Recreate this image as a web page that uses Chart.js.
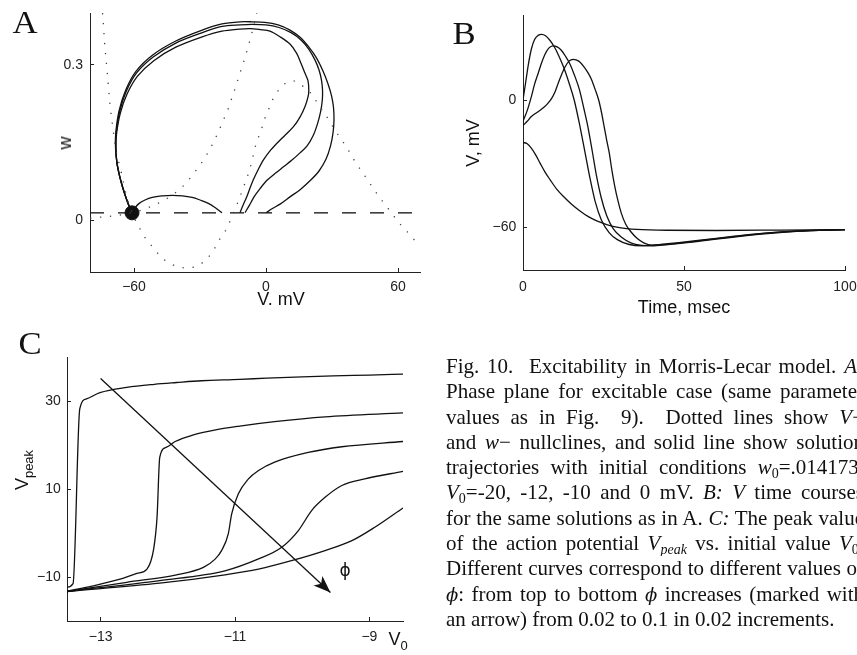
<!DOCTYPE html>
<html><head><meta charset="utf-8">
<script src="https://cdn.jsdelivr.net/npm/chart.js@4.4.0/dist/chart.umd.min.js"></script>
<style>
html,body{margin:0;padding:0;background:#fff;}
body{width:857px;height:655px;overflow:hidden;position:relative;}
.box{position:absolute;}
.lbl{position:absolute;font-family:"Liberation Sans",Arial,sans-serif;color:#111;white-space:nowrap;line-height:1;transform:translate(-50%,-50%);}
.rot{transform:translate(-50%,-50%) rotate(-90deg);}
.pl{position:absolute;font-family:"Liberation Serif","Times New Roman",serif;font-size:31px;line-height:1;color:#111;transform:translate(-50%,-50%) scaleX(1.12);}
#cap{position:absolute;left:446px;top:353.6px;font-family:"Liberation Serif","Times New Roman",serif;font-size:21px;line-height:25.3px;color:#111;will-change:transform;}
#cap div{width:418px;height:25.3px;text-align:justify;text-align-last:justify;overflow:hidden;}
#cap div.last{text-align-last:left;}
#cap sub{font-size:14px;line-height:0;vertical-align:-4px;color:#111;}
.ph{font-family:"DejaVu Serif","Liberation Serif",serif;font-style:italic;font-size:18px;}
</style></head><body>
<div class="box" style="left:0;top:0;width:430px;height:320px"><canvas id="cA"></canvas></div>
<div class="box" style="left:430px;top:0;width:427px;height:320px"><canvas id="cB"></canvas></div>
<div class="box" style="left:0;top:330px;width:430px;height:325px"><canvas id="cC"></canvas></div>

<div class="pl" style="left:24.5px;top:22px">A</div>
<div class="pl" style="left:464px;top:32.5px">B</div>
<div class="pl" style="left:30px;top:343px">C</div>

<div class="lbl" style="left:281px;top:299px;font-size:18px">V. mV</div>
<div class="lbl rot" style="left:65px;top:143px;font-size:18px">w</div>
<div class="lbl" style="left:684px;top:307px;font-size:18px">Time, msec</div>
<div class="lbl rot" style="left:473px;top:143px;font-size:18px">V, mV</div>
<div class="lbl rot" style="left:22px;top:470px;font-size:18px">V<span style="font-size:13px;position:relative;top:5px">peak</span></div>
<div class="lbl" style="left:398px;top:639px;font-size:18px">V<span style="font-size:13px;position:relative;top:5px">0</span></div>
<div class="lbl" style="left:345px;top:570px;font-size:17px;font-family:'DejaVu Sans',sans-serif">ϕ</div>

<div id="cap">
<div>Fig. 10. &nbsp;Excitability in Morris-Lecar model. <i>A:</i></div>
<div>Phase plane for excitable case (same parameter</div>
<div>values as in Fig. &nbsp;9). &nbsp;Dotted lines show <i>V</i>&#8722;</div>
<div>and <i>w</i>&#8722; nullclines, and solid line show solution</div>
<div>trajectories with initial conditions <i>w</i><sub>0</sub>=.014173,</div>
<div><i>V</i><sub>0</sub>=-20, -12, -10 and 0 mV. <i>B:</i> <i>V</i> time courses</div>
<div>for the same solutions as in A. <i>C:</i> The peak value</div>
<div>of the action potential <i>V</i><sub><i>peak</i></sub> vs. initial value <i>V</i><sub>0</sub>.</div>
<div>Different curves correspond to different values of</div>
<div><span class="ph">ϕ</span>: from top to bottom <span class="ph">ϕ</span> increases (marked with</div>
<div class="last">an arrow) from 0.02 to 0.1 in 0.02 increments.</div>
</div>

<script>
// ---------- Panel A: phase plane (V in mV, w) ----------
const aTicksX = [-60, 0, 60];
const aTickLabelsX = ['\u221260', '0', '60'];
const aTicksY = [0, 0.3];
const aTickLabelsY = ['0', '0.3'];
const aW0 = 0.014173;
const aRest = [-60.9, 0.0142];
const aNullV = [[-74.3,0.40],[-73.9,0.378],[-73.3,0.338],[-72.4,0.297],[-71.6,0.256],[-70.7,0.215],[-69.5,0.175],[-68.2,0.135],[-66,0.096],[-64.4,0.065],[-62.6,0.035],[-60.8,0.015],[-59,-0.003],[-56.7,-0.021],[-54.3,-0.038],[-51,-0.054],[-48,-0.07],[-44.2,-0.082],[-39.7,-0.09],[-35.2,-0.092],[-30.6,-0.087],[-25.3,-0.067],[-20.8,-0.035],[-17.8,-0.016],[-16,0.002],[-14,0.022],[-12.1,0.042],[-10.3,0.063],[-8.4,0.085],[-6.5,0.112],[-5,0.14],[-3.6,0.158],[-1.9,0.178],[-0.5,0.197],[1.4,0.216],[3.3,0.235],[5.9,0.252],[9,0.265],[11.5,0.269],[13.9,0.267],[17.6,0.256],[21,0.242],[23.7,0.224],[26.4,0.208],[29,0.19],[31.5,0.173],[34.2,0.156],[36.8,0.14],[39.2,0.122],[41.9,0.104],[44.7,0.087],[47.4,0.07],[50.1,0.053],[52.9,0.037],[55.8,0.021],[58.8,0.004],[61.9,-0.012],[65.2,-0.027],[68.2,-0.042],[70,-0.05]];
const aNullW = [[-80,0.004],[-75,0.006],[-70,0.008],[-65,0.011],[-60.5,0.015],[-55.5,0.021],[-51,0.029],[-46.5,0.038],[-42.5,0.049],[-38.9,0.061],[-35.9,0.074],[-32.9,0.09],[-29.9,0.107],[-27.3,0.124],[-24.9,0.142],[-22.8,0.16],[-20.8,0.179],[-18.9,0.198],[-17,0.217],[-15.5,0.236],[-14,0.255],[-12.5,0.275],[-11,0.295],[-9.5,0.314],[-8.2,0.334],[-6.8,0.355],[-5.6,0.375],[-4.5,0.394],[-4.2,0.40]];
const aTraj0 = [[0.2,0.0147],[2.7,0.022],[6.4,0.031],[10.9,0.045],[15.5,0.059],[20,0.076],[24.1,0.095],[27.3,0.118],[29.3,0.143],[30.45,0.168],[30.9,0.193],[30.7,0.217],[29.8,0.24],[28.2,0.263],[25.9,0.288],[23,0.313],[19.5,0.334],[15.5,0.353],[10.9,0.367],[5.5,0.377],[-0.5,0.382],[-6.4,0.383],[-11.8,0.383],[-20,0.379],[-29,0.367],[-41,0.346],[-51.5,0.319],[-59.2,0.287],[-63.8,0.251],[-66.8,0.211],[-68.3,0.168],[-68.4,0.14],[-67.8,0.112],[-66.7,0.088],[-65.2,0.064],[-63.6,0.043],[-62.2,0.027],[-60.9,0.0142]];
const aTraj10 = [[-9.55,0.0147],[-7.5,0.029],[-5.45,0.045],[-2.7,0.061],[0.45,0.077],[4.1,0.09],[7.95,0.103],[11.8,0.116],[15.45,0.13],[18.6,0.143],[21.4,0.163],[23.4,0.186],[24.8,0.209],[25.6,0.232],[25.7,0.251],[25.2,0.271],[24.1,0.29],[22.3,0.309],[19.5,0.33],[15.9,0.348],[11.4,0.362],[5.9,0.372],[0,0.377],[-6.4,0.378],[-11.8,0.377],[-20,0.374],[-29,0.362],[-41,0.342],[-51.3,0.315],[-58.9,0.284],[-63.5,0.249],[-66.5,0.21],[-68.1,0.168],[-68.3,0.14],[-67.8,0.112],[-66.7,0.088],[-65.2,0.064],[-63.6,0.043],[-62.2,0.027],[-60.9,0.0142]];
const aTraj12 = [[-11.8,0.0147],[-10.45,0.029],[-8.77,0.045],[-7.27,0.062],[-5.77,0.078],[-3.64,0.097],[-1.23,0.116],[1.82,0.134],[4.86,0.148],[8.64,0.164],[12.4,0.18],[15.45,0.199],[17.7,0.219],[19.1,0.238],[19.45,0.251],[19.1,0.269],[17.7,0.284],[15.9,0.303],[13.95,0.322],[10.9,0.34],[6.4,0.354],[1.8,0.365],[-2.7,0.368],[-7.3,0.37],[-12,0.369],[-20,0.365],[-29,0.354],[-41,0.334],[-51,0.308],[-58.4,0.278],[-63.1,0.244],[-66.2,0.207],[-67.9,0.168],[-68.2,0.14],[-67.8,0.112],[-66.7,0.088],[-65.2,0.064],[-63.6,0.043],[-62.2,0.027],[-60.9,0.0142]];
const aTraj20 = [[-20,0.0142],[-23,0.024],[-26,0.032],[-30,0.039],[-33.6,0.044],[-38,0.047],[-42.7,0.048],[-47,0.047],[-51.7,0.044],[-55,0.039],[-57.8,0.032],[-59.5,0.024],[-60.6,0.0155]];

// ---------- Panel B: V time courses (t in msec, V in mV) ----------
const bTicksX = [0, 50, 100];
const bTickLabelsX = ['0', '50', '100'];
const bTicksY = [-60, 0];
const bTickLabelsY = ['\u221260', '0'];
const bV0_0 = [[0,0],[0.8,8],[1.7,17],[2.6,24],[3.6,28.5],[4.7,30.4],[5.8,30.9],[7,30.2],[8.4,28],[9.8,24.8],[11.2,20.5],[12.6,15.5],[14.3,8],[15.9,0],[17.7,-12.5],[19.3,-25],[20.9,-37.5],[22.4,-47.7],[24.3,-56.3],[26.8,-62.5],[29.3,-65.7],[33,-68],[37,-68.6],[40,-68.4],[45,-67.6],[55,-66],[65,-64.2],[75,-62.6],[85,-61.6],[100,-61]];
const bV0_10 = [[0,-10],[1.3,-5],[2.6,1.6],[3.6,7.5],[4.7,12.5],[5.7,17.2],[6.7,21.1],[8,24.4],[9.3,25.5],[10.6,25],[11.9,23.4],[13.2,20.6],[14.5,17.2],[15.9,12],[17.5,5],[18.9,-4],[20.2,-13],[21.5,-24],[22.8,-35.5],[24.3,-46],[26,-54.5],[28,-60.5],[30.5,-64.5],[33.5,-67.2],[37,-68.4],[40,-68.6],[45,-67.9],[55,-66.2],[65,-64.4],[75,-62.8],[85,-61.7],[100,-61]];
const bV0_12 = [[0,-12],[1.3,-10],[2.6,-7.8],[4.2,-6],[5.7,-4.4],[7.3,-2.3],[8.8,0.5],[10,4],[10.9,7.8],[12,12],[13,15.4],[14.3,18.3],[15.6,19.1],[17.3,18.3],[19,15.5],[20.3,12.5],[21.3,9.5],[22.4,5],[23.5,0],[24.4,-6],[25.2,-12.5],[26,-19],[26.8,-25],[27.6,-33],[28.5,-40.6],[29.5,-47.5],[30.5,-53.1],[31.9,-58.5],[33.5,-62],[35.5,-65.2],[37.5,-67.2],[40,-68.3],[45,-68],[55,-66.4],[65,-64.6],[75,-63],[85,-61.8],[100,-61]];
const bV0_20 = [[0,-20],[1.2,-20.5],[2.4,-22.3],[3.8,-25.5],[5.3,-29.7],[6.8,-33.8],[8.4,-37.5],[10.4,-41.8],[12.5,-45.3],[15,-48.9],[17.7,-52.2],[20.3,-54.9],[22.9,-56.9],[26,-58.6],[29.1,-59.8],[32.2,-60.5],[35.3,-60.9],[45,-61.3],[60,-61.4],[80,-61.2],[100,-61]];

// ---------- Panel C: V_peak vs V0 for phi = 0.02..0.1 ----------
const cTicksX = [-13, -11, -9];
const cTickLabelsX = ['\u221213', '\u221211', '\u22129'];
const cTicksY = [-10, 10, 30];
const cTickLabelsY = ['\u221210', '10', '30'];
const cPhi02 = [[-13.5,-12.3],[-13.41,-11.5],[-13.31,28.2],[-13.21,30.5],[-13.01,31.9],[-12.61,33.1],[-12.2,33.8],[-11.87,34.2],[-11.5,34.6],[-10.93,34.9],[-10.53,35.2],[-10,35.5],[-9.54,35.7],[-9,35.9],[-8.5,36.1]];
const cPhi04 = [[-13.5,-13.2],[-13.11,-12],[-12.71,-10.5],[-12.46,-9.2],[-12.31,-8.2],[-12.21,-3.6],[-12.16,3.6],[-12.12,17.2],[-12.02,19.5],[-11.89,20.8],[-11.62,22.3],[-11.27,23.5],[-10.93,24.3],[-10.41,25.3],[-9.66,26.4],[-8.5,27.3]];
const cPhi06 = [[-13.5,-13.3],[-12.61,-11.2],[-11.87,-9.5],[-11.47,-7.8],[-11.3,-6],[-11.2,-4],[-11.1,-0.2],[-11.05,4.3],[-10.95,8.9],[-10.8,12.3],[-10.65,14.2],[-10.41,16.1],[-9.91,18.3],[-9.41,19.6],[-8.5,20.8]];
const cPhi08 = [[-13.5,-13.3],[-12.12,-10.8],[-11.15,-8.6],[-10.65,-5.9],[-10.31,-3.3],[-10.06,0.5],[-9.86,5.1],[-9.66,8.1],[-9.41,10.8],[-9.07,12.3],[-8.5,14]];
const cPhi10 = [[-13.5,-13.3],[-12.12,-11.4],[-11.15,-9.5],[-10.65,-8.2],[-10.16,-6.3],[-9.66,-4],[-9.26,-1.75],[-8.92,1.3],[-8.5,5.7]];
const cArrow = [[-13,35.1],[-9.58,-13.5]];

// ---------- helpers ----------
Chart.defaults.font.family = '"Liberation Sans", Arial, sans-serif';
Chart.defaults.font.size = 14;
Chart.defaults.color = '#222';
Chart.defaults.animation = false;

const INK = '#111';
function pts(arr){ return arr.map(p => ({x: p[0], y: p[1]})); }
function lineDS(arr, extra){
  return Object.assign({data: pts(arr), showLine: true, borderColor: INK, backgroundColor: INK,
    borderWidth: 1.3, pointRadius: 0, fill: false, tension: 0.3}, extra || {});
}
function axis(min, max, ticks, labels, size, pad, horiz){
  return {
    type: 'linear', min: min, max: max,
    afterBuildTicks: s => { s.ticks = ticks.map(v => ({value: v})); },
    afterFit: s => {
      if (horiz) { s.height = size; s.paddingLeft = 0; s.paddingRight = 0; }
      else { s.width = size; s.paddingTop = 0; s.paddingBottom = 0; }
    },
    ticks: {padding: pad, autoSkip: false, maxRotation: 0, minRotation: 0, color: '#222',
      font: {size: 14}, callback: (v, i) => labels[i]},
    grid: {display: true, drawOnChartArea: false, drawTicks: true, tickLength: -4, color: '#222', lineWidth: 1},
    border: {display: true, color: '#222', width: 1}
  };
}
function baseOpts(pad, sx, sy){
  return {responsive: true, maintainAspectRatio: false, animation: false,
    layout: {padding: pad},
    plugins: {legend: {display: false}, tooltip: {enabled: false}},
    scales: {x: sx, y: sy}};
}

const arrowHead = {
  id: 'arrowHead',
  afterDatasetsDraw(chart){
    chart.data.datasets.forEach((d, i) => {
      if (!d.arrow) return;
      const pts = chart.getDatasetMeta(i).data;
      const p0 = pts[0], p1 = pts[pts.length - 1];
      const a = Math.atan2(p1.y - p0.y, p1.x - p0.x);
      const L = 17, W = 6.5;
      const bx = p1.x - L * Math.cos(a), by = p1.y - L * Math.sin(a);
      const c = chart.ctx;
      c.save();
      c.fillStyle = INK;
      c.beginPath();
      c.moveTo(p1.x, p1.y);
      c.lineTo(bx + W * Math.sin(a), by - W * Math.cos(a));
      c.lineTo(p1.x - 0.75 * L * Math.cos(a), p1.y - 0.75 * L * Math.sin(a));
      c.lineTo(bx - W * Math.sin(a), by + W * Math.cos(a));
      c.closePath();
      c.fill();
      c.restore();
    });
  }
};

// ---------- Panel A chart ----------
const dotted = {borderDash: [1.3, 8.7], borderColor: '#444', borderWidth: 1.3, tension: 0.35};
new Chart(document.getElementById('cA'), {
  type: 'scatter',
  data: {datasets: [
    lineDS(aNullV, dotted),
    lineDS(aNullW, dotted),
    lineDS([[-80, aW0], [70, aW0]], {borderDash: [14, 14], tension: 0, borderWidth: 1.3}),
    lineDS(aTraj0), lineDS(aTraj10), lineDS(aTraj12), lineDS(aTraj20, {tension: 0.4}),
    {data: pts([aRest]), pointRadius: 7, pointBackgroundColor: INK, pointBorderColor: INK, showLine: false}
  ]},
  options: baseOpts({top: 13, right: 10, left: 0, bottom: 0},
    axis(-80, 70, aTicksX, aTickLabelsX, 48, 10.6, true),
    axis(-0.1, 0.4, aTicksY, aTickLabelsY, 90, 11, false))
});

// ---------- Panel B chart ----------
const mono = {cubicInterpolationMode: 'monotone'};
new Chart(document.getElementById('cB'), {
  type: 'scatter',
  data: {datasets: [lineDS(bV0_0, mono), lineDS(bV0_10, mono), lineDS(bV0_12, mono), lineDS(bV0_20, mono)]},
  options: baseOpts({top: 15, right: 12, left: 0, bottom: 0},
    axis(0, 100, bTicksX, bTickLabelsX, 50, 12.3, true),
    axis(-80, 40, bTicksY, bTickLabelsY, 93, 10.7, false))
});

// ---------- Panel C chart ----------
new Chart(document.getElementById('cC'), {
  type: 'scatter',
  data: {datasets: [
    lineDS(cPhi02, mono), lineDS(cPhi04, mono), lineDS(cPhi06, mono), lineDS(cPhi08, mono), lineDS(cPhi10, mono),
    lineDS(cArrow, {tension: 0, arrow: true})
  ]},
  options: baseOpts({top: 27, right: 27, left: 0, bottom: 0},
    axis(-13.5, -8.5, cTicksX, cTickLabelsX, 34, 11.6, true),
    axis(-20, 40, cTicksY, cTickLabelsY, 67, 10.3, false)),
  plugins: [arrowHead]
});
</script>
</body></html>
